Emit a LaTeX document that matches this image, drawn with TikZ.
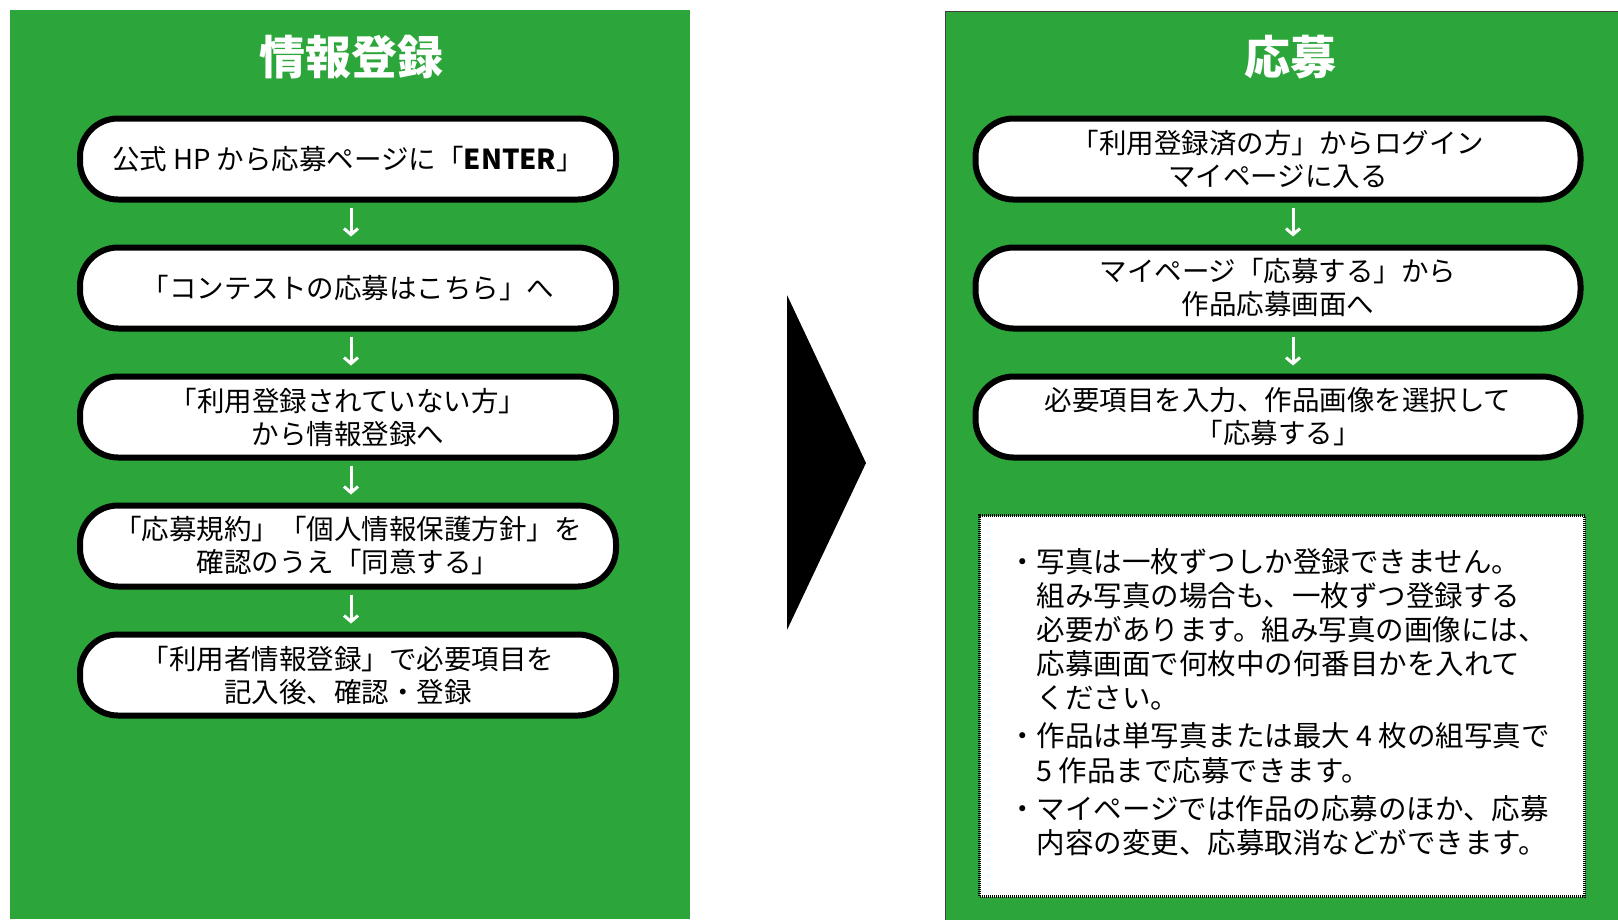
\documentclass[tikz,border=0pt]{standalone}
\usepackage{fontspec}
\setmainfont{Noto Sans CJK JP}
\usetikzlibrary{arrows.meta}

\definecolor{panelgreen}{RGB}{44,166,58}

\tikzset{
  panel/.style={fill=panelgreen},
  paneltitle/.style={white, font=\fontsize{46}{50}\selectfont\bfseries},
  stepbox/.style={draw=black, fill=white, line width=6pt, rounded corners=38pt,
    minimum height=81pt, align=center, font=\fontsize{27.5}{33}\selectfont},
  leftbox/.style={stepbox, minimum width=536pt},
  rightbox/.style={stepbox, minimum width=605pt},
  notebox/.style={draw=black, fill=white, line width=3pt, dash pattern=on 1pt off 1pt,
    minimum width=605pt, minimum height=381pt},
  flow/.style={white, line width=3pt, -{Straight Barb[length=6pt,width=14pt]},
    shorten <=5pt, shorten >=8pt}
}

\begin{document}
\begin{tikzpicture}[x=1pt,y=-1pt]
  \useasboundingbox (0,0) rectangle (1618,919);

  % two panels and the arrow between them
  \fill[panel] (10,10) rectangle (690,919);
  \filldraw[panel, draw=black!75, line width=1pt] (945,11) rectangle (1630,930);
  \fill[black] (787,295) -- (866,463) -- (787,630) -- cycle;

  % panel titles
  \node[paneltitle] (regtitle) at (351,57) {情報登録};
  \node[paneltitle] (apptitle) at (1290,57) {応募};

  % left: registration steps
  \node[leftbox] (reg1) at (348,159) {公式 HP から応募ページに「\textbf{ENTER}」};
  \node[leftbox] (reg2) at (348,288) {「コンテストの応募はこちら」へ};
  \node[leftbox] (reg3) at (348,417) {「利用登録されていない方」\\から情報登録へ};
  \node[leftbox] (reg4) at (348,546) {「応募規約」「個人情報保護方針」を\\確認のうえ「同意する」};
  \node[leftbox] (reg5) at (348,675) {「利用者情報登録」で必要項目を\\記入後、確認・登録};

  % right: application steps
  \node[rightbox] (app1) at (1278,159) {「利用登録済の方」からログイン\\マイページに入る};
  \node[rightbox] (app2) at (1278,288) {マイページ「応募する」から\\作品応募画面へ};
  \node[rightbox] (app3) at (1278,417) {必要項目を入力、作品画像を選択して\\「応募する」};

  \foreach \a/\b/\s in {reg1/reg2/3, reg2/reg3/3, reg3/reg4/3, reg4/reg5/3, app1/app2/15, app2/app3/15}
    \draw[flow] ([xshift=\s pt]\a.south) -- ([xshift=\s pt]\b.north);

  % notes
  \node[notebox] (note) at (1282,706) {};
  \node[anchor=north west, inner sep=0pt, font=\fontsize{28.5}{34}\selectfont] (notetext) at (1008,548) {%
    \begin{tabular}{@{}l@{}l@{}}
      ・&写真は一枚ずつしか登録できません。\\
       &組み写真の場合も、一枚ずつ登録する\\
       &必要があります。組み写真の画像には、\\
       &応募画面で何枚中の何番目かを入れて\\
       &ください。\\[4pt]
      ・&作品は単写真または最大 4 枚の組写真で\\
       &5 作品まで応募できます。\\[4pt]
      ・&マイページでは作品の応募のほか、応募\\
       &内容の変更、応募取消などができます。
    \end{tabular}};
\end{tikzpicture}
\end{document}
